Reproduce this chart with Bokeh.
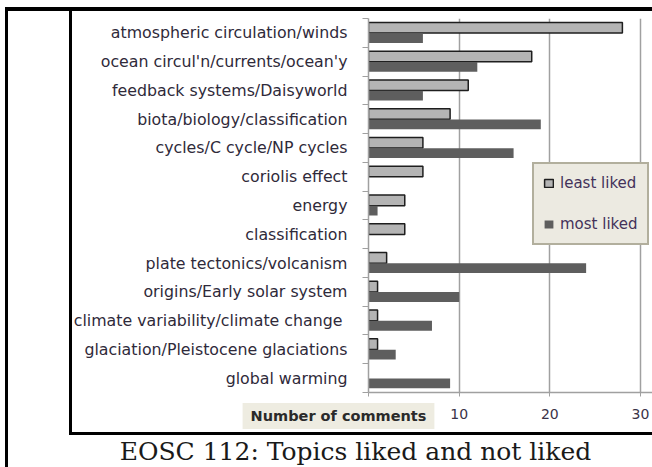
from bokeh.plotting import figure
from bokeh.models import (Range1d, LinearAxis, FixedTicker, ColumnDataSource, Legend,
                          LegendItem, Label, InlineStyleSheet)
from bokeh.embed import file_html
from bokeh.resources import INLINE

topics = ["atmospheric circulation/winds", "ocean circul'n/currents/ocean'y",
          "feedback systems/Daisyworld", "biota/biology/classification",
          "cycles/C cycle/NP cycles", "coriolis effect", "energy", "classification",
          "plate tectonics/volcanism", "origins/Early solar system",
          "climate variability/climate  change", "glaciation/Pleistocene glaciations",
          "global warming"]
least_liked = [28, 18, 11, 9, 6, 6, 4, 4, 2, 1, 1, 1, 0]
most_liked = [6, 12, 6, 19, 16, 0, 1, 0, 24, 10, 7, 3, 9]
x_ticks = [0, 10, 20, 30]
x_tick_labels = ["", "10", "20", "30"]
legend_labels = ["least liked", "most liked"]
axis_title = "Number of comments"
chart_title = "EOSC 112: Topics liked and not liked"

N = len(topics)
slot_center = [N - i - 0.5 for i in range(N)]   # first topic at the top

# The canvas gets a hidden strip of height OFF above the visible area (the host
# is pulled up by CSS); that strip holds the panels of the free-placed texts.
OFF = 70
W, H = 652, 467 + OFF
MBL, MBT, MBB = 368, 18 + OFF, 75
FL = MBL                 # canvas x of frame left
FB = H - MBB             # canvas y of frame bottom

p = figure(width=W, height=H, y_range=Range1d(0, N), x_range=Range1d(0, 31.32),
           output_backend="svg", toolbar_location=None, y_axis_location=None,
           min_border_left=MBL, min_border_right=0, min_border_top=MBT,
           min_border_bottom=MBB)
p.outline_line_color = None
p.background_fill_color = "white"
p.border_fill_color = "white"
p.ygrid.visible = False
p.xgrid.ticker = FixedTicker(ticks=x_ticks[1:])
p.xgrid.grid_line_color = "#A0A0A0"
p.xgrid.grid_line_width = 1.5

xa = p.xaxis[0]
xa.ticker = FixedTicker(ticks=x_ticks)
xa.major_label_overrides = {t: s for t, s in zip(x_ticks, x_tick_labels)}
xa.major_tick_out = 4
xa.major_tick_in = 0
xa.minor_tick_line_color = None
xa.axis_line_color = "#A0A0A0"
xa.axis_line_width = 1.5
xa.major_tick_line_color = "#A0A0A0"
xa.major_label_standoff = 12
xa.major_label_text_font = "DejaVu Sans"
xa.major_label_text_font_size = "14px"
xa.major_label_text_color = "#3a3348"

tick_axis = LinearAxis(ticker=FixedTicker(ticks=list(range(N + 1))),
                       major_label_text_font_size="0px", major_label_standoff=0,
                       major_tick_out=6, major_tick_in=0, minor_tick_line_color=None,
                       axis_line_color="#A0A0A0", axis_line_width=1.5,
                       major_tick_line_color="#A0A0A0")
cat_axis = LinearAxis(ticker=FixedTicker(ticks=slot_center),
                      major_label_overrides={c: t for c, t in zip(slot_center, topics)},
                      major_tick_line_color=None, major_tick_out=0, major_tick_in=0,
                      minor_tick_line_color=None, axis_line_color=None,
                      major_label_standoff=15, major_label_text_font="DejaVu Sans",
                      major_label_text_font_size="15.8px", major_label_text_color="#2f2a3a")
p.add_layout(tick_axis, "left")
p.add_layout(cat_axis, "left")

least_src = ColumnDataSource(dict(y=[c + 0.18 for c, v in zip(slot_center, least_liked) if v > 0],
                                  value=[v for v in least_liked if v > 0]))
most_src = ColumnDataSource(dict(y=[c - 0.18 for c in slot_center], value=most_liked))
r1 = p.hbar(y="y", left=0, right="value", height=0.37, source=least_src,
            fill_color="#B4B4B4", line_color="#1E1E1E", line_width=1.5)
r2 = p.hbar(y="y", left=0, right="value", height=0.34, source=most_src,
            fill_color="#5E5E5E", line_color=None)

legend = Legend(items=[LegendItem(label=legend_labels[0], renderers=[r1]),
                       LegendItem(label=legend_labels[1], renderers=[r2])],
                location=(532 - FL, FB - (245 + OFF)), margin=0, padding=9, spacing=21,
                glyph_width=11, glyph_height=10, label_height=20, label_width=78,
                label_standoff=6, label_text_font="DejaVu Sans", label_text_font_size="15px",
                label_text_color="#43325a", background_fill_color="#ECEAE1",
                background_fill_alpha=1, border_line_color="#77735A", border_line_width=2)
p.add_layout(legend, "center")

# axis title (in place of the "0" tick label) and chart title, in canvas pixels
p.add_layout(Label(x=338, y=415.5 + OFF, x_units="canvas", y_units="canvas",
                   text=axis_title, text_align="center", text_baseline="middle",
                   text_font="DejaVu Sans", text_font_style="bold",
                   text_font_size="14.5px", text_color="#2a2a2a",
                   background_fill_color="#EEECE1", background_fill_alpha=1,
                   padding=(8, 5)), "above")
p.add_layout(Label(x=355, y=451 + OFF, x_units="canvas", y_units="canvas",
                   text=chart_title, text_align="center", text_baseline="alphabetic",
                   text_font="DejaVu Serif", text_font_size="25px",
                   text_color="#1a1a1a"), "above")

# table rules drawn around the chart cell; host pulled up by OFF
p.stylesheets = [InlineStyleSheet(css=f"""
:host {{ position: relative; margin-top: -{OFF}px !important; }}
:host::before, :host::after {{
  content: ""; position: absolute; box-sizing: border-box;
  pointer-events: none; z-index: 100; border: 0 solid #000;
}}
:host::before {{ left: 5px; top: {7 + OFF}px; width: 647px; height: 460px;
  border-left-width: 3px; border-top-width: 4px; }}
:host::after {{ left: 69px; top: {7 + OFF}px; width: 583px; height: 428px;
  border-left-width: 3px; border-bottom-width: 3px; }}
""")]

open("out.html", "w").write(file_html(p, INLINE))
